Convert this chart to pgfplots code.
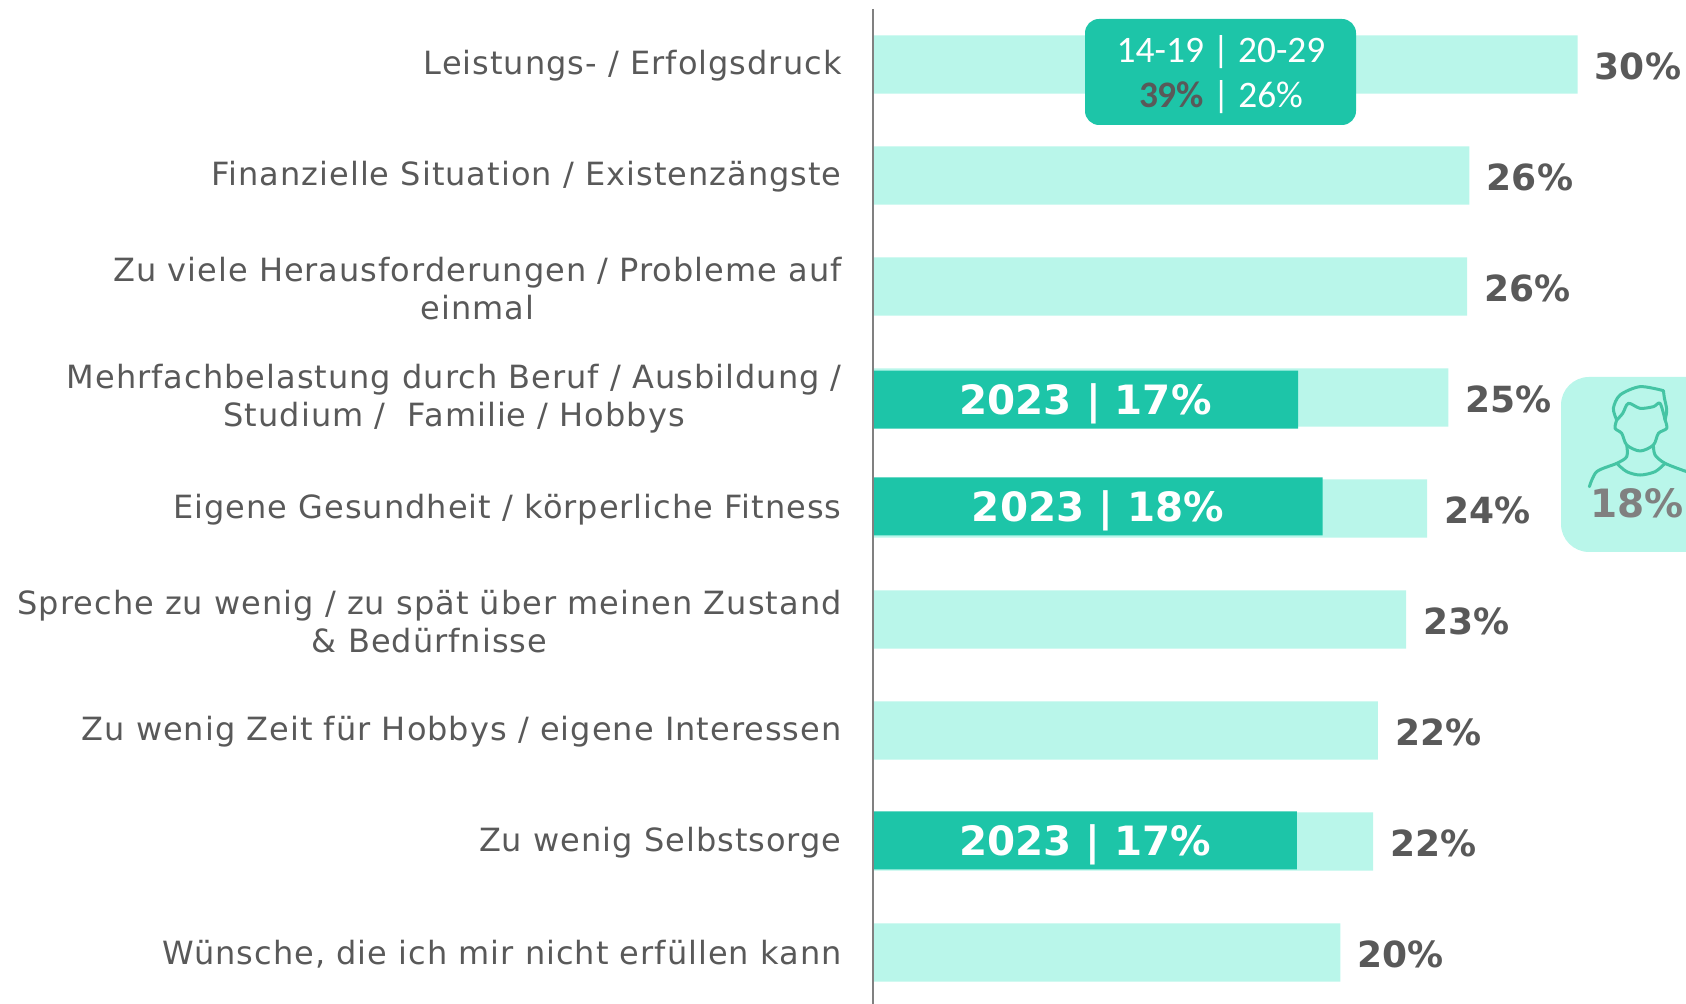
\documentclass[border=0pt]{standalone}
\usepackage{fontspec}
\setmainfont{DejaVu Sans}
\newfontfamily\spaced[LetterSpace=3.2]{DejaVu Sans}
\newfontfamily\calibri{Carlito}
\usepackage{pgfplots}
\usepackage{pgfplotstable}
\pgfplotsset{compat=1.18}
\definecolor{lightbar}{HTML}{B9F6EA}
\definecolor{darkbar}{HTML}{1DC5A8}
\definecolor{txt}{HTML}{595959}
\definecolor{icon}{HTML}{45C4A4}

% bar length (in %), row position, printed value
\pgfplotstableread{
val   row    pct
30.0  0.00   30
25.4  1.00   26
25.3  2.00   26
24.5  3.00   25
23.6  4.00   24
22.7  5.00   23
21.5  6.00   22
21.3  7.00   22
19.9  8.00   20
}\lightdata
\pgfplotstableread{
val   mid    row    pct
18.1  9.05   3.02   17
19.15 9.58   3.98   18
18.05 9.03   6.99   17
}\darkdata

\begin{document}
\begin{tikzpicture}
\path[use as bounding box] (0,0) rectangle (843pt,502pt);
\begin{axis}[
    at={(436.5pt,0pt)}, anchor=south west,
    scale only axis, width=406.5pt, height=497.5pt,
    xmin=0, xmax=34.62, ymin=-0.5, ymax=8.464, y dir=reverse,
    axis x line=none, axis y line=left, axis on top,
    axis line style={-, color=black!50, line width=0.6pt},
    major tick length=0pt, clip=false,
    ytick={0,...,8},
    yticklabels={
        {Leistungs- / Erfolgsdruck},
        {Finanzielle Situation / Existenzängste},
        {Zu viele Herausforderungen / Probleme auf\\einmal},
        {Mehrfachbelastung durch Beruf / Ausbildung /\\Studium /\ \ Familie / Hobbys},
        {Eigene Gesundheit / körperliche Fitness},
        {Spreche zu wenig / zu spät über meinen Zustand\\\& Bedürfnisse},
        {Zu wenig Zeit für Hobbys / eigene Interessen},
        {Zu wenig Selbstsorge},
        {Wünsche, die ich mir nicht erfüllen kann}},
    yticklabel style={align=center, font=\spaced\fontsize{16}{19}\selectfont,
        text=txt, inner sep=0pt, xshift=-15.5pt, yshift=-0.8pt},
]
\addplot[xbar, bar shift=0pt, bar width=29pt, fill=lightbar, draw=none,
    point meta=explicit symbolic,
    nodes near coords={\pgfplotspointmeta\%},
    every node near coord/.style={anchor=west, inner sep=0pt, xshift=8.5pt, yshift=-1pt,
        text=txt, font=\fontsize{18}{20}\selectfont\bfseries}]
    table[x=val, y=row, meta=pct] {\lightdata};
\addplot[xbar, bar shift=0pt, bar width=29pt, fill=darkbar, draw=none]
    table[x=val, y=row] {\darkdata};
\addplot[draw=none, mark=none,
    point meta=explicit symbolic,
    nodes near coords={2023 | \pgfplotspointmeta\%},
    every node near coord/.style={anchor=center, inner sep=0pt, yshift=-2.3pt,
        text=white, font=\fontsize{20.2}{22}\selectfont\bfseries}]
    table[x=mid, y=row, meta=pct] {\darkdata};
\end{axis}
% callouts, in reference pixels from the top left
\begin{scope}[shift={(0,502pt)}, x=0.5pt, y=-0.5pt]
  \fill[darkbar, rounded corners=7pt] (1085,19) rectangle (1356,125);
  \node[text=white, font=\calibri\fontsize{18.7}{20}\selectfont, inner sep=0pt] at (1221,52) {14-19 | 20-29};
  \node[text=white, font=\calibri\fontsize{18.7}{20}\selectfont, inner sep=0pt] at (1221,97)
      {\textcolor{txt}{\bfseries 39\%} | 26\%};
  \fill[lightbar, rounded corners=14pt] (1561,377) rectangle (1760,552);
  \begin{scope}[shift={(1400,350)}, x=0.1667pt, y=-0.1667pt, draw=icon, line width=1.5pt,
      line cap=round, line join=round]
    \draw plot[smooth] coordinates {(650,210) (640,175) (660,135) (720,110) (790,122)};
    \draw (790,122) -- (793,145);
    \draw plot[smooth] coordinates {(793,145) (800,180) (795,210)};
    \draw plot[smooth] coordinates {(650,210) (668,190) (685,160) (720,175) (760,170) (780,160) (795,210)};
    \draw plot[smooth] coordinates {(650,210) (645,235) (665,250) (680,285) (720,303) (760,285) (775,250) (800,235) (795,210)};
    \draw plot[smooth] coordinates {(680,285) (680,320) (650,340) (590,365) (568,410)};
    \draw plot[smooth] coordinates {(760,285) (765,315) (795,340) (860,365)};
    \draw plot[smooth] coordinates {(650,340) (680,365) (720,375) (765,365) (795,340)};
  \end{scope}
  \node[anchor=west, text=black!50, font=\fontsize{19.5}{20}\selectfont\bfseries, inner sep=0pt] at (1590,503) {18\%};
\end{scope}
\end{tikzpicture}
\end{document}
